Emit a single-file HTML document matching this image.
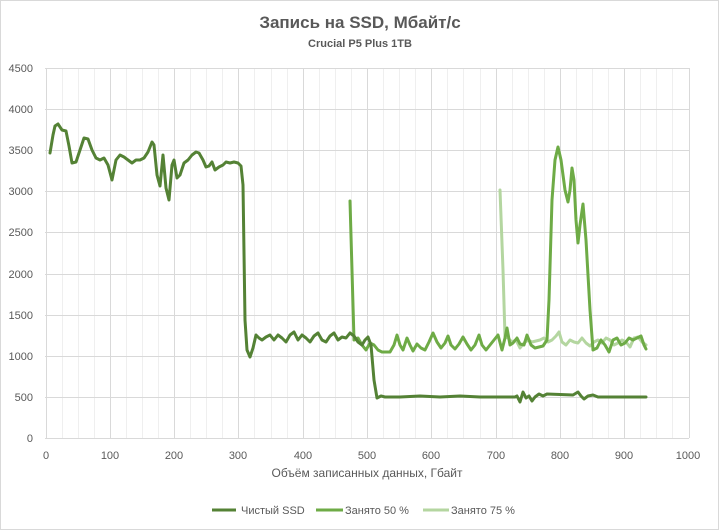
<!DOCTYPE html>
<html><head><meta charset="utf-8"><style>
html,body{margin:0;padding:0;background:#fff;}
svg{display:block;font-family:"Liberation Sans",sans-serif;}
</style></head><body>
<svg width="719" height="530" viewBox="0 0 719 530" xmlns="http://www.w3.org/2000/svg">
<rect x="0.5" y="0.5" width="718" height="529" fill="#fff" stroke="#d9d9d9"/>
<text x="360" y="28" text-anchor="middle" font-size="17" font-weight="bold" fill="#595959">Запись на SSD, Мбайт/с</text>
<text x="360" y="47" text-anchor="middle" font-size="11" font-weight="bold" fill="#595959">Crucial P5 Plus 1TB</text>
<path stroke="#efefef" stroke-width="1" fill="none" d="M62.5 68V438M78.5 68V438M94.5 68V438M126.5 68V438M142.5 68V438M158.5 68V438M190.5 68V438M206.5 68V438M222.5 68V438M254.5 68V438M271.5 68V438M287.5 68V438M319.5 68V438M335.5 68V438M351.5 68V438M383.5 68V438M399.5 68V438M415.5 68V438M447.5 68V438M463.5 68V438M480.5 68V438M512.5 68V438M528.5 68V438M544.5 68V438M576.5 68V438M592.5 68V438M608.5 68V438M640.5 68V438M656.5 68V438M672.5 68V438"/>
<path stroke="#d9d9d9" stroke-width="1" fill="none" d="M46.5 68V438M110.5 68V438M174.5 68V438M238.5 68V438M303.5 68V438M367.5 68V438M431.5 68V438M496.5 68V438M560.5 68V438M624.5 68V438M689.5 68V438M45 438.5H689M45 397.5H689M45 356.5H689M45 315.5H689M45 274.5H689M45 232.5H689M45 191.5H689M45 150.5H689M45 109.5H689M45 68.5H689"/>
<g font-size="11" fill="#595959" text-anchor="end">
<text x="33" y="442">0</text><text x="33" y="401">500</text><text x="33" y="360">1000</text><text x="33" y="319">1500</text><text x="33" y="278">2000</text><text x="33" y="236">2500</text><text x="33" y="195">3000</text><text x="33" y="154">3500</text><text x="33" y="113">4000</text><text x="33" y="72">4500</text>
</g>
<g font-size="11" fill="#595959" text-anchor="middle">
<text x="46" y="459">0</text><text x="110" y="459">100</text><text x="174" y="459">200</text><text x="238" y="459">300</text><text x="303" y="459">400</text><text x="367" y="459">500</text><text x="431" y="459">600</text><text x="496" y="459">700</text><text x="560" y="459">800</text><text x="624" y="459">900</text><text x="688" y="459">1000</text>
</g>
<g fill="none" stroke-width="3" stroke-linejoin="round" stroke-linecap="round">
<polyline stroke="#b4d6a0" points="500,190 503,270 505,337 508,338 512,342 516,340 520,348 524,343 528,340 532,342 536,341 540,340 544,338 548,342 552,340 556,336 559,332 562,342 566,345 570,340 574,342 578,343 582,338 586,343 590,346 594,342 598,340 602,343 606,338 610,340 614,345 618,343 622,340 626,342 630,347 634,338 638,337 642,342 646,345"/>
<polyline stroke="#6eab46" points="350,201 354,340 358,338 362,345 366,350 370,343 374,345 378,350 382,352 386,352 390,352 394,345 397,335 400,345 403,350 407,338 410,345 413,351 417,344 421,348 425,350 429,342 433,333 437,342 441,348 445,343 448,336 451,345 455,349 459,344 463,337 467,344 471,350 475,345 479,335 482,345 486,350 490,345 494,340 498,335 502,350 505,338 507,328 510,345 513,343 517,338 520,344 524,345 527,335 531,345 535,348 539,347 543,346 547,340 549,300 552,200 555,160 558,147 561,160 565,190 568,202 570,190 572,168 574,180 576,220 578,243 580,225 583,204 586,240 590,310 593,350 597,348 601,340 605,345 609,352 613,340 617,338 621,345 625,343 629,338 633,340 637,338 641,336 644,345 646,349"/>
<polyline stroke="#548235" points="50,153 53,135 55,126 58,124 62,130 66,131 69,146 72,163 76,162 80,150 84,138 88,139 92,150 96,158 100,160 104,158 108,165 112,180 116,160 120,155 124,157 128,160 132,163 136,160 140,160 144,158 148,152 152,142 154,145 157,175 160,186 163,155 166,188 169,200 172,165 174,160 177,178 180,175 184,163 188,160 192,155 196,152 199,153 203,160 206,167 209,166 212,162 215,170 219,167 223,165 226,162 230,163 234,162 238,163 241,166 243,185 245,320 247,350 250,357 253,348 256,335 259,338 262,340 266,337 270,335 274,340 278,335 282,338 286,342 290,335 294,332 298,340 302,335 306,338 310,342 314,336 318,333 322,340 326,342 330,336 334,333 338,340 342,337 346,338 350,333 354,336 358,342 362,345 365,340 368,337 371,345 374,380 377,398 381,396 385,397 400,397 420,396 440,397 460,396 480,397 500,397 515,397 517,396 520,402 523,392 526,398 529,396 532,401 535,397 539,394 543,396 547,394 573,395 578,392 581,396 584,399 588,396 593,395 598,397 620,397 646,397"/>
</g>
<text x="367" y="477" text-anchor="middle" font-size="12" fill="#595959">Объём записанных данных, Гбайт</text>
<g stroke-width="3">
<line x1="212" y1="510" x2="236" y2="510" stroke="#548235"/>
<line x1="316" y1="510" x2="343" y2="510" stroke="#6eab46"/>
<line x1="423" y1="510" x2="449" y2="510" stroke="#b4d6a0"/>
</g>
<g font-size="11" fill="#595959">
<text x="241" y="514">Чистый SSD</text>
<text x="345" y="514">Занято 50 %</text>
<text x="451" y="514">Занято 75 %</text>
</g>
</svg>
</body></html>
